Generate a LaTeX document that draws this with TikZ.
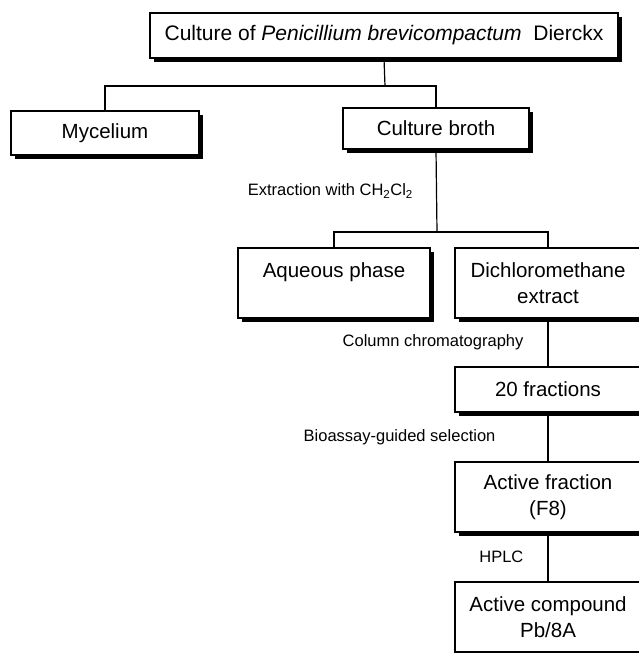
\documentclass[tikz,border=0pt]{standalone}
\usepackage{fontspec}
\setmainfont{Liberation Sans}
\usepackage{tikz}
\usetikzlibrary{shadows}

\tikzset{
  box/.style={draw, line width=1.2pt, fill=white, inner sep=0pt, align=center,
    font=\fontsize{20.5}{26}\selectfont,
    drop shadow={shadow xshift=4pt, shadow yshift=-4pt, fill=black, opacity=1}},
  lbl/.style={font=\fontsize{16.5}{20}\selectfont, inner sep=0pt},
  conn/.style={line width=1.2pt}
}

\begin{document}
\begin{tikzpicture}[x=1pt, y=-1pt]
\useasboundingbox (0,0) rectangle (639,653);

% Culture and first split
\node[box, minimum width=468pt, minimum height=45pt, font=\fontsize{21}{26}\selectfont] (top) at (384,35.5)
  {Culture of \textit{Penicillium brevicompactum}\ \ Dierckx};
\node[box, minimum width=188pt, minimum height=44pt] (myc) at (105,133) {Mycelium};
\node[box, minimum width=186pt, minimum height=41pt] (broth) at (436,128.5) {Culture broth};

\coordinate (split1) at (385,86);
\draw[conn] (top.south) -- (split1);
\draw[conn] (myc.north) |- (split1) -| (broth.north);

% Extraction
\node[box, minimum width=192pt, minimum height=70pt] (aq) at (334,283) {Aqueous phase\\\mbox{}};
\node[box, minimum width=186pt, minimum height=70pt] (dcm) at (548,283) {Dichloromethane\\extract};

\coordinate (split2) at (437,232);
\draw[conn] (broth.south) -- node[lbl, left=23pt] {Extraction with CH\textsubscript{2}Cl\textsubscript{2}} (split2);
\draw[conn] (aq.north) |- (split2) -| (dcm.north);

% Fractionation
\node[box, minimum width=186pt, minimum height=45pt] (frac) at (548,389.5) {20 fractions};
\node[box, minimum width=186pt, minimum height=70pt] (act) at (548,497) {Active fraction\\(F8)};
\node[box, minimum width=186pt, minimum height=70pt] (cmp) at (548,617) {Active compound\\Pb/8A};

\draw[conn] (dcm.south) -- node[lbl, left=24pt] {Column chromatography} (frac.north);
\draw[conn] (frac.south) -- node[lbl, left=52pt] {Bioassay-guided selection} (act.north);
\draw[conn] (act.south) -- node[lbl, left=24pt] {HPLC} (cmp.north);

\end{tikzpicture}
\end{document}
